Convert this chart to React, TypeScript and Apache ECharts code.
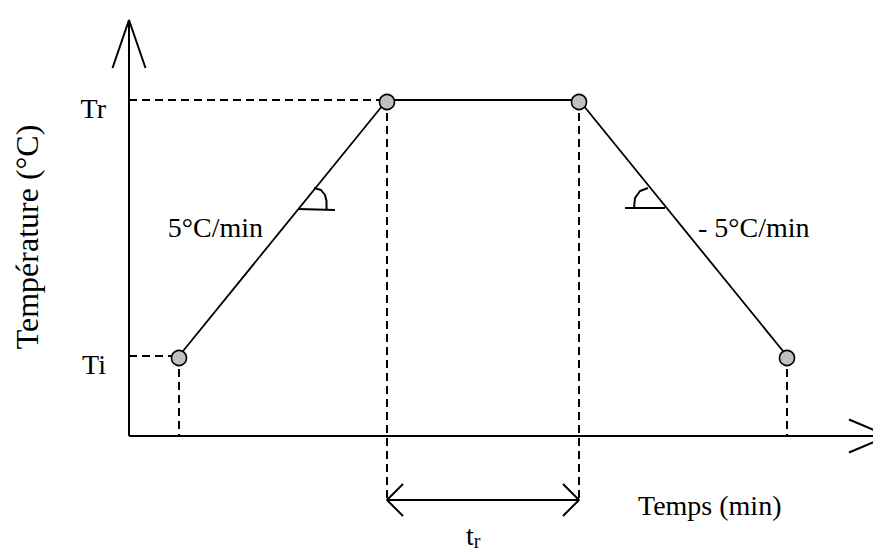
import React, { useEffect, useRef } from "react";
import * as echarts from "echarts";

// Schematic temperature programme (arbitrary units: 1 unit ~ 10 px)
const Ti = 8.0;
const Tr = 33.6;
const times = [5.0, 25.8, 45.0, 65.8]; // start, end of ramp up, end of plateau, end of ramp down
const tempLevels = [Ti, Tr, Tr, Ti];
const yTickValues = [Ti, Tr];
const yTickLabels = ["Ti", "Tr"];
const axisTopY = 41.6;
const axisEndX = 75.9;
const bracketY = -6.4;
const arrowLen = 4.8;
const arrowHalf = 1.65;
const headSize = 1.6;
const riseMark = [[18.5, 24.8], [19.2, 24.6], [19.6, 24.1], [19.75, 23.5], [19.75, 22.7]];
const riseBase = [[16.9, 22.7], [20.6, 22.6]];
const fallMark = [[50.5, 22.8], [50.6, 23.8], [51.1, 24.5], [51.9, 24.8]];
const fallBase = [[49.6, 22.8], [53.6, 22.8]];
const riseLabel = "5°C/min";
const fallLabel = "- 5°C/min";
const xTitle = "Temps (min)";
const yTitle = "Température (°C)";

const FONT = "'Liberation Serif', 'Times New Roman', serif";

export default function App() {
  const ref = useRef<HTMLDivElement>(null);
  useEffect(() => {
    const chart = echarts.init(ref.current!, null, { renderer: "svg" });
    const solid = (data: number[][], width = 1.7, z = 3) => ({
      type: "line",
      data,
      symbol: "none",
      clip: false,
      silent: true,
      z,
      lineStyle: { color: "#000", width, type: "solid" },
    });
    const dashed = (data: number[][]) => ({
      type: "line",
      data,
      symbol: "none",
      clip: false,
      silent: true,
      z: 2,
      lineStyle: { color: "#000", width: 2, type: [8, 5] },
    });
    const [t0, t1, t2, t3] = times;
    const profile = times.map((t, i) => [t, tempLevels[i]]);
    const tickLabelData = yTickValues.map((v, i) => ({ value: [0, v], name: yTickLabels[i] }));
    chart.setOption({
      animation: false,
      tooltip: { show: false },
      grid: { left: 21, right: 0, top: 12, bottom: 126, containLabel: false, outerBoundsMode: "none" },
      xAxis: {
        type: "value",
        min: -10,
        max: 76,
        show: false,
        splitLine: { show: false },
      },
      yAxis: {
        type: "value",
        min: 0,
        max: axisTopY,
        show: false,
        splitLine: { show: false },
      },
      series: [
        // axes
        solid([[0, 0], [0, axisTopY]], 2),
        solid([[0, 0], [axisEndX, 0]], 2),
        solid([[-arrowHalf, axisTopY - arrowLen], [0, axisTopY], [arrowHalf, axisTopY - arrowLen]], 2),
        solid([[axisEndX - 3.9, arrowHalf], [axisEndX, 0], [axisEndX - 3.9, -arrowHalf]], 2),
        // tick labels Ti / Tr
        {
          type: "scatter",
          data: tickLabelData,
          symbolSize: 0,
          silent: true,
          clip: false,
          itemStyle: { color: "#000", opacity: 1 },
          label: {
            show: true,
            position: "left",
            distance: 23,
            offset: [0, 8],
            formatter: (p: any) => p.name,
            fontFamily: FONT,
            fontSize: 28,
            color: "#000",
            textBorderWidth: 0,
            opacity: 1,
          },
        },
        // guides
        dashed([[0, Tr], [t1, Tr]]),
        dashed([[0, Ti], [t0, Ti]]),
        dashed([[t0, Ti], [t0, 0]]),
        dashed([[t3, Ti], [t3, 0]]),
        dashed([[t1, Tr], [t1, bracketY]]),
        dashed([[t2, Tr], [t2, bracketY]]),
        // duration bracket
        solid([[t1, bracketY], [t2, bracketY]], 2),
        solid([[t1 + headSize, bracketY + headSize], [t1, bracketY], [t1 + headSize, bracketY - headSize]], 2),
        solid([[t2 - headSize, bracketY + headSize], [t2, bracketY], [t2 - headSize, bracketY - headSize]], 2),
        // slope marks
        solid(riseMark, 2),
        solid(riseBase, 2),
        solid(fallMark, 2),
        solid(fallBase, 2),
        // profile
        {
          type: "line",
          data: profile,
          clip: false,
          silent: true,
          z: 5,
          symbol: "circle",
          symbolSize: 15,
          symbolOffset: [0, 2],
          lineStyle: { color: "#000", width: 1.8 },
          itemStyle: { color: "#c0c0c0", borderColor: "#000", borderWidth: 1.6 },
        },
      ],
      graphic: [
        {
          type: "text",
          x: 255,
          y: 205,
          style: { text: riseLabel, font: `28px ${FONT}`, fill: "#000", align: "right", verticalAlign: "alphabetic" },
        },
        {
          type: "text",
          x: 690,
          y: 205,
          style: { text: fallLabel, font: `28px ${FONT}`, fill: "#000", align: "left", verticalAlign: "alphabetic" },
        },
        {
          type: "text",
          x: 630,
          y: 483,
          style: { text: xTitle, font: `28px ${FONT}`, fill: "#000", align: "left", verticalAlign: "alphabetic" },
        },
        {
          type: "text",
          x: 19,
          y: 229,
          rotation: Math.PI / 2,
          style: { text: yTitle, font: `32px ${FONT}`, fill: "#000", align: "center", verticalAlign: "middle" },
        },
        {
          type: "text",
          x: 458,
          y: 527,
          style: {
            text: "{t|t}{s|r}",
            fill: "#000",
            verticalAlign: "middle",
            rich: {
              t: { fontFamily: FONT, fontSize: 28, fill: "#000" },
              s: { fontFamily: FONT, fontSize: 20, fill: "#000", padding: [12, 0, 0, 0] },
            },
          },
        },
      ],
    });
    return () => chart.dispose();
  }, []);
  return <div ref={ref} style={{ position: "fixed", left: 0, top: 0, width: 881, height: 554 }} />;
}
